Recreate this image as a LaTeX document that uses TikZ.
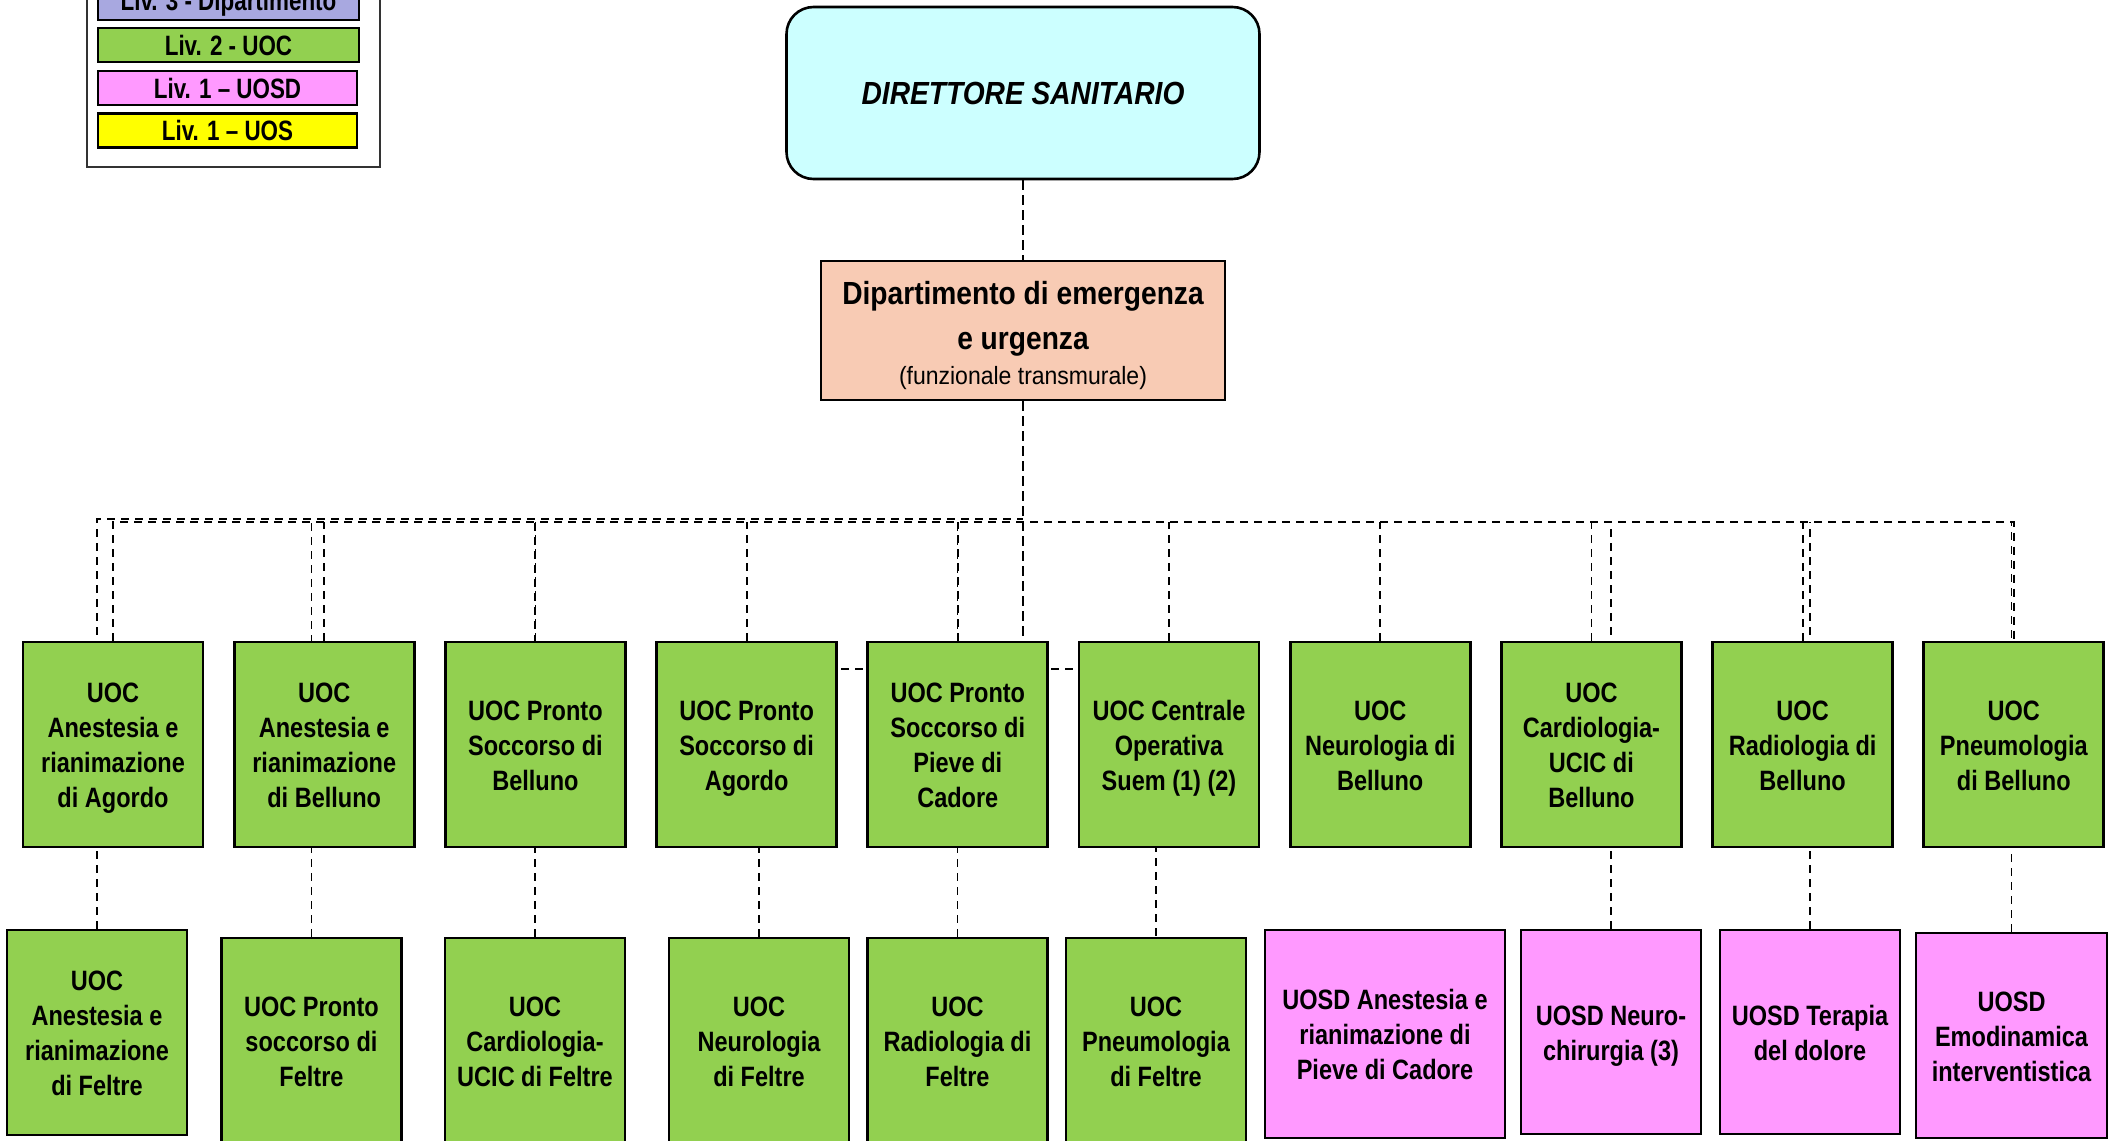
\documentclass[tikz,border=0pt]{standalone}
\usepackage{fontspec}
\setmainfont{Liberation Sans}
\newfontfamily\nf{Liberation Sans}[FakeStretch=0.84]
\newfontfamily\lf{Liberation Sans}[FakeStretch=0.80]
\newfontfamily\df{Liberation Sans}[FakeStretch=0.88]
\newfontfamily\rf{Liberation Sans}[FakeStretch=0.92]
\pgfdeclarelayer{bg}
\pgfsetlayers{bg,main}
\definecolor{dircol}{HTML}{CCFFFF}
\definecolor{deptcol}{HTML}{F8CBB4}
\definecolor{uoccol}{HTML}{92D050}
\definecolor{uosdcol}{HTML}{FF99FF}
\definecolor{uoscol}{HTML}{FFFF00}
\definecolor{depcol}{HTML}{A8A8E0}
\definecolor{legframe}{HTML}{333333}
\newcommand\btxt[1]{\raisebox{-1.8pt}[\height][\depth]{\begin{tabular}{@{}c@{}}#1\end{tabular}}}
\tikzset{
  boxtext/.style={font=\nf\bfseries\fontsize{14}{17.5}\selectfont, inner sep=0pt},
  gbox/.style={boxtext, draw=black, line width=1.35pt, fill=uoccol, minimum width=90pt, minimum height=102.5pt},
  pbox/.style={boxtext, draw=black, line width=1.35pt, fill=uosdcol, minimum height=102.5pt},
  legbox/.style={draw=black, line width=1.3pt, font=\lf\bfseries\fontsize{14}{16}\selectfont, inner sep=0pt, minimum height=17pt},
  conn/.style={draw=black, line width=0.9pt, dash pattern=on 4pt off 3pt},
  trunk/.style={draw=black, line width=1.3pt, dash pattern=on 5pt off 2.5pt},
}
\begin{document}
\begin{tikzpicture}[x=0.5pt,y=-0.5pt]
\useasboundingbox (0,0) rectangle (2116,1141);

% legend
\node[draw=legframe, line width=1pt, fill=white, minimum width=146.5pt, minimum height=103.5pt, inner sep=0pt] (legend) at (233.5,63.5) {};
\node[legbox, fill=depcol, minimum width=130.5pt] (lev3) at (228.5,3) {Liv. 3 - Dipartimento};
\node[legbox, fill=uoccol, minimum width=130.5pt] (lev2) at (228.5,45) {Liv. 2 - UOC};
\node[legbox, fill=uosdcol, minimum width=129.5pt] (lev1d) at (227.5,88) {Liv. 1 – UOSD};
\node[legbox, fill=uoscol, minimum width=129.5pt] (lev1s) at (227.5,130.5) {Liv. 1 – UOS};

% top
\node[draw=black, line width=1.3pt, fill=dircol, rounded corners=13.5pt, minimum width=236.5pt, minimum height=86pt, inner sep=0pt,
      font=\df\bfseries\itshape\fontsize{16}{19}\selectfont] (dir) at (1023,93) {DIRETTORE SANITARIO};
\node[draw=black, line width=1.3pt, fill=deptcol, minimum width=202pt, minimum height=69.5pt, inner sep=0pt, align=center,
      font=\df\bfseries\fontsize{16}{22.5}\selectfont] (dept) at (1023,330.5)
      {\rule{0pt}{17pt}Dipartimento di emergenza\\e urgenza\\[-5pt]{\rf\mdseries\fontsize{12.5}{15}\selectfont(funzionale transmurale)}};

% top row
\node[gbox] (t1) at (113,744.5) {\btxt{UOC\\Anestesia e\\rianimazione\\di Agordo}};
\node[gbox] (t2) at (324.2,744.5) {\btxt{UOC\\Anestesia e\\rianimazione\\di Belluno}};
\node[gbox] (t3) at (535.4,744.5) {\btxt{UOC Pronto\\Soccorso di\\Belluno}};
\node[gbox] (t4) at (746.6,744.5) {\btxt{UOC Pronto\\Soccorso di\\Agordo}};
\node[gbox] (t5) at (957.8,744.5) {\btxt{UOC Pronto\\Soccorso di\\Pieve di\\Cadore}};
\node[gbox] (t6) at (1169,744.5) {\btxt{UOC Centrale\\Operativa\\Suem (1) (2)}};
\node[gbox] (t7) at (1380.2,744.5) {\btxt{UOC\\Neurologia di\\Belluno}};
\node[gbox] (t8) at (1591.4,744.5) {\btxt{UOC\\Cardiologia-\\UCIC di\\Belluno}};
\node[gbox] (t9) at (1802.6,744.5) {\btxt{UOC\\Radiologia di\\Belluno}};
\node[gbox] (t10) at (2013.8,744.5) {\btxt{UOC\\Pneumologia\\di Belluno}};

% bottom row
\node[gbox] (b1) at (97,1032.5) {\btxt{UOC\\Anestesia e\\rianimazione\\di Feltre}};
\node[gbox] (b2) at (311.5,1040.5) {\btxt{UOC Pronto\\soccorso di\\Feltre}};
\node[gbox] (b3) at (535,1040.5) {\btxt{UOC\\Cardiologia-\\UCIC di Feltre}};
\node[gbox] (b4) at (759,1040.5) {\btxt{UOC\\Neurologia\\di Feltre}};
\node[gbox] (b5) at (957.5,1040.5) {\btxt{UOC\\Radiologia di\\Feltre}};
\node[gbox] (b6) at (1156,1040.5) {\btxt{UOC\\Pneumologia\\di Feltre}};
\node[pbox, minimum width=120pt, minimum height=104pt] (b7) at (1385,1034) {\btxt{UOSD Anestesia e\\rianimazione di\\Pieve di Cadore}};
\node[pbox, minimum width=90pt, minimum height=102pt] (b8) at (1611,1032) {\btxt{UOSD Neuro-\\chirurgia (3)}};
\node[pbox, minimum width=90pt, minimum height=102pt] (b9) at (1810,1032) {\btxt{UOSD Terapia\\del dolore}};
\node[pbox, minimum width=95.5pt, minimum height=102.5pt] (b10) at (2011.5,1035.5) {\btxt{UOSD\\Emodinamica\\interventistica}};

% connectors
\coordinate (busA) at (1023,519);
\coordinate (busB) at (1023,522);
\coordinate (hl) at (958,669);
\begin{pgfonlayer}{bg}
\fill[white] (0,0) rectangle (2116,1141);
\draw[trunk] (dir.south) -- (dept.north);
\draw[trunk] (dept.south) -- (dept.south |- t5.north);
\draw[conn] (b1.north) |- (busA);
\draw[conn] (b2.north) -- (b2.north |- busA);
\draw[conn] (t1.north) |- (busB) -| (t10.north);
\foreach \i in {2,...,9} {\draw[conn] (t\i.north) -- (t\i.north |- busB);}
\foreach \i in {3,5,8,9,10} {\draw[conn] (b\i.north) -- (b\i.north |- busB);}
\draw[conn] (b4.north) |- (hl) -| (b6.north);
\end{pgfonlayer}
\end{tikzpicture}
\end{document}
